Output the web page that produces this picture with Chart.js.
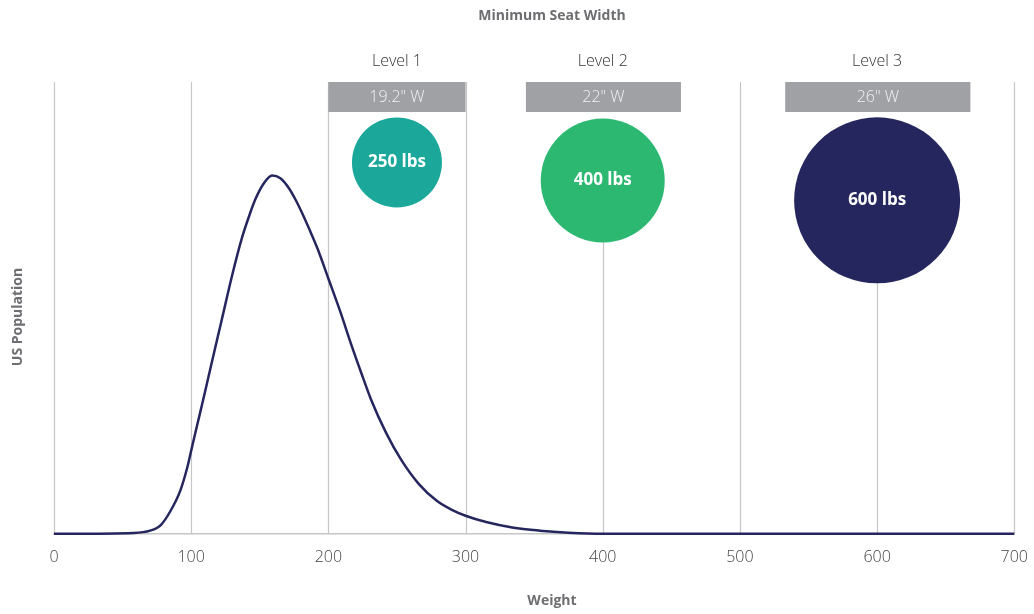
<!DOCTYPE html>
<html>
<head>
<meta charset="utf-8">
<script src="https://cdn.jsdelivr.net/npm/chart.js@4/dist/chart.umd.min.js"></script>
<style>
  html, body { margin: 0; padding: 0; background: #fff; }
  #wrap { width: 1034px; height: 614px; }
</style>
</head>
<body>
<div id="wrap"><canvas id="seatChart"></canvas></div>
<script>
// weight distribution curve
const weights = [0, 58, 70, 78, 85, 92, 97, 100, 104, 109, 114, 122, 130, 137, 143, 147, 153, 159, 165, 171, 176, 181, 186, 192, 200, 209, 216, 224, 231, 242, 253, 266, 279, 290, 300, 315, 334, 354, 375, 400, 700];
const population = [0, 0.2, 0.7, 2.0, 5.1, 9.5, 14.5, 18.4, 23.6, 30.0, 36.6, 47.0, 57.4, 65.5, 71.0, 74.2, 77.6, 79.3, 78.7, 76.6, 74.0, 70.9, 67.5, 63.2, 56.5, 48.9, 42.5, 35.6, 29.8, 22.4, 16.4, 11.0, 7.3, 5.3, 4.0, 2.6, 1.4, 0.7, 0.25, 0, 0];

// seat levels
const levelNames = ["Level 1", "Level 2", "Level 3"];
const seatWidths = ['19.2" W', '22" W', '26" W'];
const boxFrom = [200, 344, 533];
const boxTo = [300, 457, 668];
const capacityLabels = ["250 lbs", "400 lbs", "600 lbs"];
const capacityX = [250, 400, 600];
const capacityY = [82.2, 78.2, 73.8];
const capacityR = [45, 62, 83];
const capacityColors = ["#1ba89b", "#2db872", "#26265e"];

const xTicks = [0, 100, 200, 300, 400, 500, 600, 700];

const FONT = "'Open Sans', 'Noto Sans', sans-serif";

// grid lines, boxes and labels
const decorPlugin = {
  id: "decor",
  beforeDatasetsDraw(chart) {
    const { ctx, chartArea, scales } = chart;
    ctx.save();
    ctx.strokeStyle = "#c6c6c6";
    ctx.lineWidth = 1.2;
    xTicks.forEach(function (v) {
      const px = Math.round(scales.x.getPixelForValue(v)) + 0.5;
      let top = chartArea.top;
      const i = capacityX.indexOf(v);
      if (i >= 0) top = scales.y.getPixelForValue(capacityY[i]);
      ctx.beginPath();
      ctx.moveTo(px, top);
      ctx.lineTo(px, chartArea.bottom);
      ctx.stroke();
    });

    // seat width boxes
    levelNames.forEach(function (name, i) {
      const x1 = scales.x.getPixelForValue(boxFrom[i]);
      const x2 = scales.x.getPixelForValue(boxTo[i]);
      const cx = (x1 + x2) / 2;
      ctx.fillStyle = "#a0a1a5";
      ctx.fillRect(x1, chartArea.top, x2 - x1, 30);
      ctx.fillStyle = "#f2f2f2";
      ctx.font = "300 16px " + FONT;
      ctx.textAlign = "center";
      ctx.textBaseline = "middle";
      ctx.fillText(seatWidths[i], cx, chartArea.top + 15);
      ctx.fillStyle = "#333";
      ctx.fillText(name, scales.x.getPixelForValue(capacityX[i]), chartArea.top - 21);
    });
    ctx.restore();
  },
  afterDraw(chart) {
    const { ctx, scales } = chart;
    ctx.save();
    ctx.textAlign = "center";
    ctx.textBaseline = "middle";
    ctx.fillStyle = "#fff";
    ctx.font = "bold 17px " + FONT;
    capacityLabels.forEach(function (t, i) {
      ctx.fillText(t, scales.x.getPixelForValue(capacityX[i]), scales.y.getPixelForValue(capacityY[i]));
    });

    // titles
    ctx.fillStyle = "#6d6e71";
    ctx.font = "bold 14px " + FONT;
    ctx.fillText("Minimum Seat Width", 552, 16);
    ctx.fillText("Weight", 552, 601);
    ctx.translate(18, 317);
    ctx.rotate(-Math.PI / 2);
    ctx.fillText("US Population", 0, 0);
    ctx.restore();
  }
};

const curveData = weights.map(function (w, i) { return { x: w, y: population[i] }; });
const bubbleData = capacityX.map(function (x, i) { return { x: x, y: capacityY[i], r: capacityR[i] }; });

const chart = new Chart(document.getElementById("seatChart"), {
  type: "bubble",
  data: {
    datasets: [{
      type: "bubble",
      data: bubbleData,
      backgroundColor: capacityColors,
      borderWidth: 0,
      hoverBorderWidth: 0,
      clip: false,
      order: 0,
    }, {
      type: "line",
      data: curveData,
      borderColor: "#26265e",
      borderWidth: 2.5,
      pointRadius: 0,
      fill: false,
      cubicInterpolationMode: "monotone",
      clip: false,
      order: 1,
    }],
  },
  options: {
    responsive: true,
    maintainAspectRatio: false,
    animation: false,
    layout: { autoPadding: false, padding: { left: 54, right: 9, top: 82, bottom: 41 } },
    plugins: { legend: { display: false }, tooltip: { enabled: false } },
    scales: {
      x: {
        type: "linear",
        min: 0,
        max: 700,
        grid: { display: false },
        border: { display: true, color: "#c6c6c6", width: 1.5 },
        afterBuildTicks: function (axis) { axis.ticks = xTicks.map(function (v) { return { value: v }; }); },
        ticks: { color: "#444", font: { family: FONT, size: 16, weight: "300" }, padding: 6, maxRotation: 0 },
      },
      y: {
        display: false,
        min: 0,
        max: 100,
      },
    },
  },
  plugins: [decorPlugin],
});
</script>
</body>
</html>
